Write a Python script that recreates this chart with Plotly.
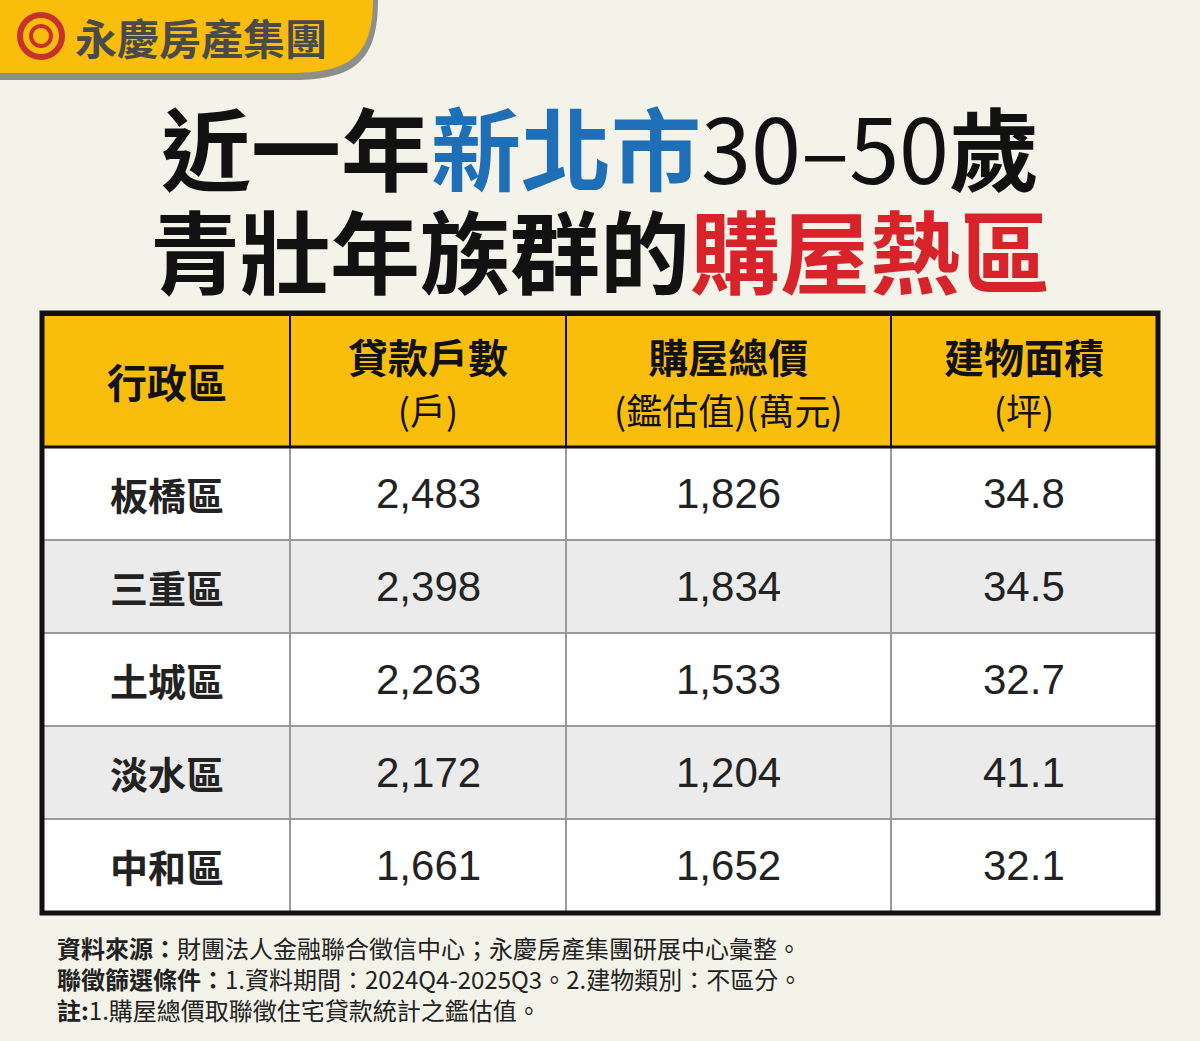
import plotly.graph_objects as go

districts = ["板橋區", "三重區", "土城區", "淡水區", "中和區"]
loans = ["2,483", "2,398", "2,263", "2,172", "1,661"]
prices = ["1,826", "1,834", "1,533", "1,204", "1,652"]
areas = ["34.8", "34.5", "32.7", "41.1", "32.1"]
headers = ["<b>行政區</b>", "<b>貸款戶數</b><br>(戶)", "<b>購屋總價</b><br>(鑑估值)(萬元)", "<b>建物面積</b><br>(坪)"]

W, H = 1200, 1041
def py(p): return 1 - p / H
def px(p): return p / W

FONT = "Noto Sans CJK TC"
NUMFONT = "Liberation Sans"
fill_rows = ["#ffffff", "#ebebeb", "#ffffff", "#ebebeb", "#ffffff"]
col_x = [43, 290, 566, 891, 1157]
head_y = (315, 447)
row_h = 93

shapes = [
    dict(type="path", xref="paper", yref="paper",
         path=f"M 0 {py(0)} L {px(378)} {py(0)} C {px(378)} {py(60)}, {px(355)} {py(78)}, {px(300)} {py(80)} L 0 {py(80)} Z",
         fillcolor="#8f8f8a", line=dict(width=0)),
    dict(type="path", xref="paper", yref="paper",
         path=f"M 0 {py(0)} L {px(373)} {py(0)} C {px(373)} {py(55)}, {px(350)} {py(72)}, {px(295)} {py(73)} L 0 {py(73)} Z",
         fillcolor="#f9bd0c", line=dict(width=0)),
    dict(type="circle", xref="paper", yref="paper", x0=px(20), x1=px(62), y0=py(57), y1=py(15),
         line=dict(color="#c8312b", width=6)),
    dict(type="circle", xref="paper", yref="paper", x0=px(31), x1=px(51), y0=py(46), y1=py(26),
         line=dict(color="#c8312b", width=4)),
]
annotations = []

def ann(**kw):
    d = dict(xref="paper", yref="paper", showarrow=False)
    d.update(kw)
    annotations.append(d)

for c in range(4):
    shapes.append(dict(type="rect", xref="paper", yref="paper", x0=px(col_x[c]), x1=px(col_x[c + 1]),
                       y0=py(head_y[1]), y1=py(head_y[0]), fillcolor="#f9bd0c",
                       line=dict(color="#111", width=2), layer="below"))
    h = headers[c]
    if "<br>" in h:
        h = h.replace("<br>", "<br><span style='font-size:36px'>") + "</span>"
    ann(text=h, x=px((col_x[c] + col_x[c + 1]) / 2), y=py(sum(head_y) / 2),
        xanchor="center", yanchor="middle", font=dict(family=FONT, size=40, color="#111"))

cols = [districts, loans, prices, areas]
for r in range(len(districts)):
    y0 = head_y[1] + r * row_h
    y1 = y0 + row_h
    for c in range(4):
        shapes.append(dict(type="rect", xref="paper", yref="paper", x0=px(col_x[c]), x1=px(col_x[c + 1]),
                           y0=py(y1), y1=py(y0), fillcolor=fill_rows[r],
                           line=dict(color="#9a9a9a", width=2), layer="below"))
        txt = cols[c][r]
        ann(text=("<b>%s</b>" % txt) if c == 0 else txt,
            x=px((col_x[c] + col_x[c + 1]) / 2), y=py((y0 + y1) / 2),
            xanchor="center", yanchor="middle",
            font=dict(family=FONT if c == 0 else NUMFONT, size=38 if c == 0 else 42, color="#222"))

shapes.append(dict(type="rect", xref="paper", yref="paper", x0=px(42), x1=px(1158), y0=py(913), y1=py(313),
                   line=dict(color="#111", width=5)))
shapes.append(dict(type="line", xref="paper", yref="paper", x0=px(42), x1=px(1158), y0=py(447), y1=py(447),
                   line=dict(color="#111", width=3)))

ann(text="<b>永慶房產集團</b>", x=px(73), y=py(36), xanchor="left", yanchor="middle",
    font=dict(family=FONT, size=42, color="#4a4a48"))
ann(text="<b>近一年<span style='color:#1f6fb8'>新北市</span></b>30–50<b>歲</b>", x=0.5, y=py(145),
    xanchor="center", yanchor="middle", font=dict(family=FONT, size=90, color="#111"))
ann(text="<b>青壯年族群的<span style='color:#d8232a'>購屋熱區</span></b>", x=0.5, y=py(248),
    xanchor="center", yanchor="middle", font=dict(family=FONT, size=90, color="#111"))
ann(text="<b>資料來源：</b>財團法人金融聯合徵信中心；永慶房產集團研展中心彙整。<br>"
         "<b>聯徵篩選條件：</b>1.資料期間：2024Q4-2025Q3。2.建物類別：不區分。<br>"
         "<b>註:</b>1.購屋總價取聯徵住宅貸款統計之鑑估值。",
    x=px(55), y=py(928), xanchor="left", yanchor="top", align="left",
    font=dict(family=FONT, size=24, color="#222"))

fig = go.Figure()
fig.update_xaxes(visible=False)
fig.update_yaxes(visible=False)
fig.update_layout(width=W, height=H, margin=dict(l=0, r=0, t=0, b=0),
                  paper_bgcolor="#f4f3e9", plot_bgcolor="#f4f3e9",
                  shapes=shapes, annotations=annotations)
fig.write_html("out.html", config={"displayModeBar": False},
               post_script="document.body.style.margin='0';")
